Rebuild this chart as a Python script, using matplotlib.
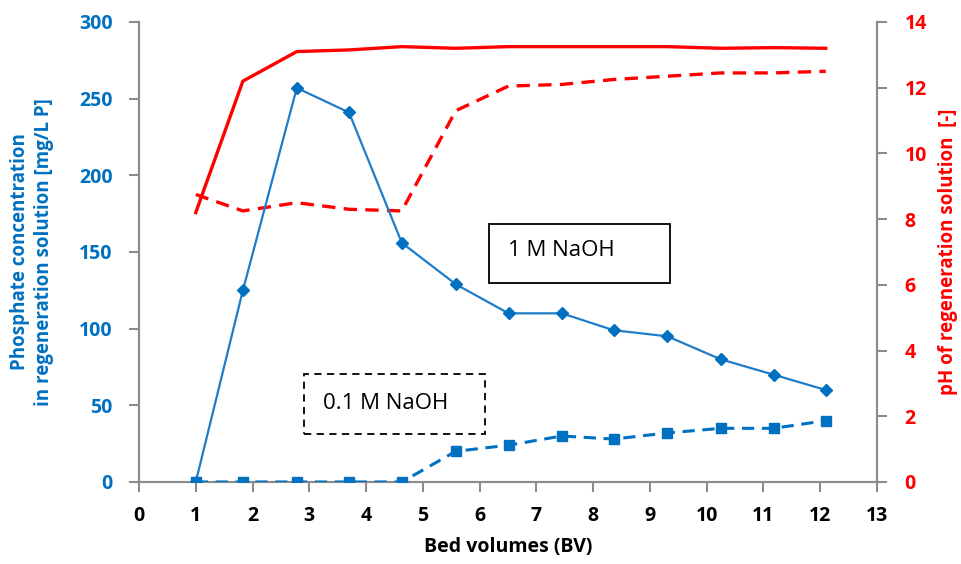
import matplotlib.pyplot as plt
from matplotlib.patches import Rectangle

plt.rcParams['font.family'] = ['Open Sans', 'DejaVu Sans']

# Data
bed_volumes = [1.0, 1.83, 2.78, 3.70, 4.63, 5.58, 6.51, 7.45, 8.36, 9.31, 10.25, 11.18, 12.1]
phos_1m = [0, 125, 257, 241, 156, 129, 110, 110, 99, 95, 80, 70, 60]
phos_01m = [0, 0, 0, 0, 0, 20, 24, 30, 28, 32, 35, 35, 40]
ph_1m = [8.2, 12.2, 13.1, 13.15, 13.25, 13.2, 13.25, 13.25, 13.25, 13.25, 13.2, 13.22, 13.2]
ph_01m = [8.75, 8.25, 8.5, 8.3, 8.25, 11.3, 12.05, 12.1, 12.25, 12.35, 12.45, 12.45, 12.5]

BLUE = '#0070C0'
LINE_BLUE = '#1F7CC8'
RED = '#FF0000'
GRAY = '#8C8C8C'

fig = plt.figure(figsize=(9.62, 5.64), dpi=100)
ax = fig.add_axes([0.1445, 0.1454, 0.767, 0.8156])
ax2 = ax.twinx()

# phosphate on left axis
ax.plot(bed_volumes, phos_1m, color=LINE_BLUE, lw=1.6, marker='D', ms=6.5,
        mfc=BLUE, mec=BLUE, zorder=3)
ax.plot(bed_volumes, phos_01m, color=BLUE, lw=2.2, ls=(0, (4, 2.5)), marker='s', ms=7.5,
        mfc=BLUE, mec=BLUE, zorder=3)

# pH on right axis
ax2.plot(bed_volumes, ph_1m, color=RED, lw=2.4)
ax2.plot(bed_volumes, ph_01m, color=RED, lw=2.4, ls=(0, (4, 2.5)))

ax.set_xlim(0, 13)
ax.set_ylim(0, 300)
ax2.set_ylim(0, 14)
ax.set_xticks(range(0, 14))
ax.set_yticks(range(0, 301, 50))
ax2.set_yticks(range(0, 15, 2))

for a in (ax, ax2):
    a.spines['top'].set_visible(False)
    for s in ('left', 'right', 'bottom'):
        a.spines[s].set_color(GRAY)
        a.spines[s].set_linewidth(1.5)
    a.tick_params(color=GRAY, width=1.5, length=7)

ax.tick_params(axis='y', labelcolor=BLUE, labelsize=14, pad=12)
ax.tick_params(axis='x', labelcolor='black', labelsize=14, pad=10)
ax2.tick_params(axis='y', labelcolor=RED, labelsize=14, pad=13)
for lbl in ax.get_xticklabels() + ax.get_yticklabels() + ax2.get_yticklabels():
    lbl.set_fontweight('bold')

ax.set_xlabel('Bed volumes (BV)', fontsize=14, fontweight='bold', labelpad=8)
ax.set_ylabel('Phosphate concentration\nin regeneration solution [mg/L P]',
              fontsize=13.5, fontweight='bold', color=BLUE, labelpad=18, linespacing=1.25)
ax2.set_ylabel('pH of regeneration solution  [-]', fontsize=13.5, fontweight='bold',
               color=RED, labelpad=8)

# annotation boxes
ax.add_patch(Rectangle((6.16, 129.5), 3.2, 39, fill=False, ec='black', lw=1.3, zorder=4))
ax.text(6.5, 151, '1 M NaOH', fontsize=16, va='center', ha='left', zorder=5)
ax.add_patch(Rectangle((2.91, 31), 3.18, 39.5, fill=False, ec='black', lw=1.3,
                       ls=(0, (4, 3)), zorder=4))
ax.text(3.24, 51, '0.1 M NaOH', fontsize=16, va='center', ha='left', zorder=5)

ax.set_zorder(ax2.get_zorder() + 1)
ax.patch.set_visible(False)

fig.savefig('out.png', dpi=100)
